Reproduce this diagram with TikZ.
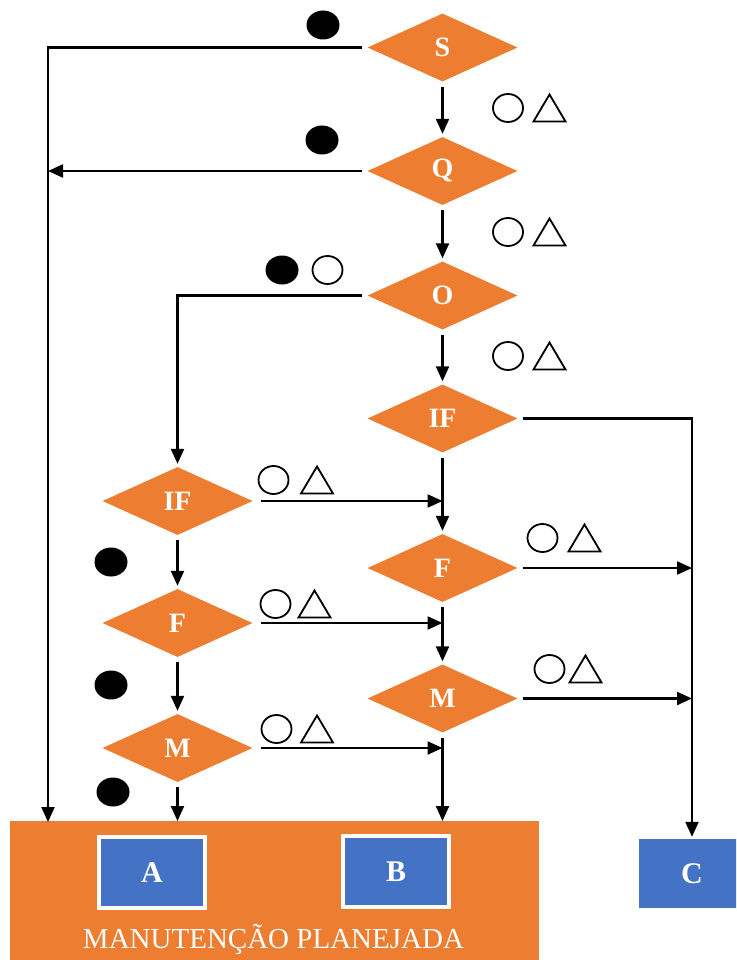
\documentclass[tikz,border=0pt]{standalone}
\usepackage{fontspec}
\setmainfont{Liberation Serif}
\usetikzlibrary{shapes.geometric,arrows.meta}
\definecolor{flowor}{HTML}{ED7D31}
\definecolor{flowbl}{HTML}{4472C4}
\begin{document}
\begin{tikzpicture}[x=1pt,y=-1pt,
  decision/.style={diamond, fill=flowor, minimum width=150pt, minimum height=68pt,
    inner sep=0pt, text=white, font=\bfseries\fontsize{28}{28}\selectfont},
  catbox/.style={rectangle, fill=flowbl, minimum width=106pt, inner sep=0pt,
    text=white, font=\bfseries\fontsize{30}{30}\selectfont},
  conn/.style={line width=2.2pt, -{Triangle[length=15pt,width=13pt]}, shorten <=5pt},
  ring/.pic={\draw[line width=1.8pt] (0,0) ellipse[x radius=15pt, y radius=14pt];},
  tri/.pic={\draw[line width=1.8pt, line join=miter] (-16,13.5) -- (0,-13.5) -- (16,13.5) -- cycle;},
  blob/.pic={\fill (0,0) ellipse[x radius=16.5pt, y radius=14.5pt];}
]
\clip (0,0) rectangle (736,960);

% decision diamonds, right column
\node[decision] (S)   at (442.5,47.5)  {S};
\node[decision] (Q)   at (442.5,171)   {Q};
\node[decision] (O)   at (442.5,295.5) {O};
\node[decision] (IFr) at (442.5,418.5) {IF};
\node[decision] (Fr)  at (442.5,568)   {F};
\node[decision] (Mr)  at (442.5,698.5) {M};
% decision diamonds, left column
\node[decision] (IFl) at (177.5,501)   {IF};
\node[decision] (Fl)  at (177.5,623)   {F};
\node[decision] (Ml)  at (177.5,748)   {M};

% planned maintenance block with its two categories
\node[fill=flowor, minimum width=529pt, minimum height=160pt, inner sep=0pt,
      anchor=north west] (plan) at (10,821) {};
\node[catbox, draw=white, line width=4pt, minimum height=71pt] (A) at (152,872.5) {A};
\node[catbox, draw=white, line width=4pt, minimum height=71pt] (B) at (396,871.5) {B};
\node[text=white, font=\fontsize{29}{29}\selectfont, anchor=base] (plantext)
      at (273.5,948) {MANUTENÇÃO PLANEJADA};
\node[catbox, minimum height=69pt] (C) at (692,873.5) {C};

% connectors
\coordinate (L) at (48,822);
\draw[conn] (S.west) -| (L);
\draw[conn] (Q.west) -- (Q.west -| L);
\draw[conn, shorten >=3pt] (S.south) -- (Q.north);
\draw[conn, shorten >=3pt] (Q.south) -- (O.north);
\draw[conn, shorten >=3pt] (O.south) -- (IFr.north);
\draw[conn, shorten >=3pt] (O.west) -| (IFl.north);
\draw[conn, shorten >=2pt] (IFr.east) -| (C.north);
\draw[conn, shorten >=3pt] (IFr.south) -- (Fr.north);
\draw[conn, shorten >=3pt] (Fr.south) -- (Mr.north);
\draw[conn] (Mr.south) -- (Mr.south |- plan.north);
\draw[conn] (Fr.east) -- (Fr.east -| C.north);
\draw[conn] (Mr.east) -- (Mr.east -| C.north);
\draw[conn, shorten <=8pt] (IFl.east) -- (IFl.east -| Fr.north);
\draw[conn, shorten <=8pt] (Fl.east) -- (Fl.east -| Mr.north);
\draw[conn, shorten <=8pt] (Ml.east) -- (Ml.east -| Mr.south);
\draw[conn, shorten >=3pt] (IFl.south) -- (Fl.north);
\draw[conn, shorten >=3pt] (Fl.south) -- (Ml.north);
\draw[conn] (Ml.south) -- (Ml.south |- plan.north);

% outcome marks on the branches
\pic at (323,25)  {blob};
\pic at (322,140) {blob};
\pic at (282,270) {blob};
\pic at (327.5,270) {ring};
\pic at (111,562) {blob};
\pic at (111,685) {blob};
\pic at (113,792) {blob};

\pic at (508,108)   {ring}; \pic at (549.5,108) {tri};
\pic at (508,232)   {ring}; \pic at (549.5,232) {tri};
\pic at (508,356)   {ring}; \pic at (549.5,356) {tri};
\pic at (273.5,480) {ring}; \pic at (317,480)   {tri};
\pic at (542.5,538) {ring}; \pic at (584.5,538) {tri};
\pic at (275.5,604) {ring}; \pic at (314.5,604) {tri};
\pic at (549.5,669) {ring}; \pic at (585.5,669) {tri};
\pic at (276.5,729) {ring}; \pic at (317,729)   {tri};
\end{tikzpicture}
\end{document}
